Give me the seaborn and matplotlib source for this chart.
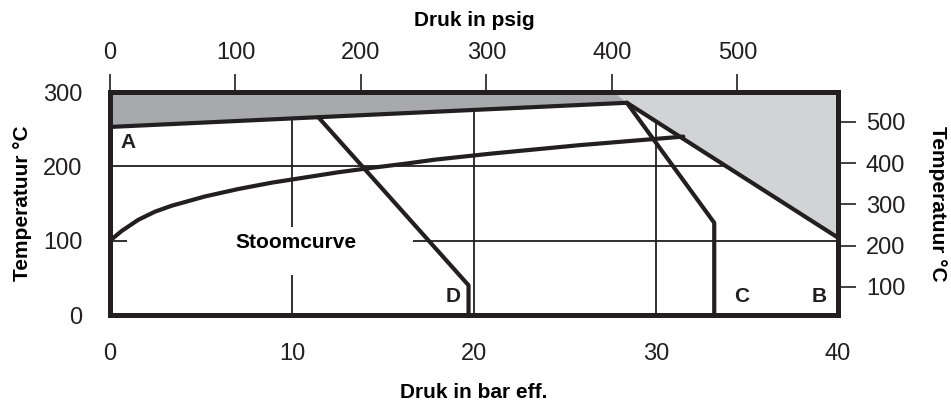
import matplotlib
matplotlib.use("Agg")
import matplotlib.pyplot as plt
import seaborn as sns
import pandas as pd
from matplotlib.patches import Rectangle

# ---- data ----
steam_bar = [0, 0.64, 1.55, 2.47, 3.39, 5.22, 7.05, 8.88, 10.71, 12.54, 14.38,
             16.21, 17.86, 20.9, 25.8, 31.5]
steam_c = [100, 113, 128, 139, 147, 159.5, 169.5, 178, 185, 192, 198,
           203.5, 209, 217, 228.5, 240]

line_a_bar = [0, 28.4]
line_a_c = [253, 285.5]
line_b_bar = [28.4, 40]
line_b_c = [285.5, 104]
line_c_bar = [28.4, 33.2, 33.2]
line_c_c = [285.5, 124, 0]
line_d_bar = [11.45, 19.7, 19.7]
line_d_c = [266, 40, 0]

dark_zone_bar = [0, 27.7, 28.4, 0]
dark_zone_c = [300, 300, 285.5, 253]
light_zone_bar = [27.7, 40, 40, 28.4]
light_zone_c = [300, 300, 104, 285.5]

bar_ticks = [0, 10, 20, 30, 40]
celsius_ticks = [0, 100, 200, 300]
psig_ticks = [0, 100, 200, 300, 400, 500]
fahr_ticks = [100, 200, 300, 400, 500]

labels = ["A", "D", "C", "B"]
label_bar = [1.0, 18.86, 34.7, 38.96]
label_c = [224, 18, 18, 18]

# ---- style ----
sns.set_theme(style="white")
plt.rcParams["font.family"] = ["Liberation Sans", "DejaVu Sans"]
ink = "#231f20"

fig = plt.figure(figsize=(9.51, 4.08), dpi=100)
ax = fig.add_axes([110 / 951, 1 - 315 / 408, (838 - 110) / 951, (315 - 92) / 408])

ax.set_xlim(0, 40)
ax.set_ylim(0, 300)
ax.set_xticks(bar_ticks)
ax.set_yticks(celsius_ticks)

# grid
ax.grid(True, color=ink, lw=1.3, zorder=0.5)
ax.set_axisbelow(True)

# zones
ax.fill(dark_zone_bar, dark_zone_c, color="#a7a9ac", lw=0, zorder=1)
ax.fill(light_zone_bar, light_zone_c, color="#d1d3d4", lw=0, zorder=1)

# white mask behind the label
ax.add_patch(Rectangle((0.93, 53.8), 16.66 - 0.93, 118.4 - 53.8,
                       facecolor="white", edgecolor="none", zorder=1.5))

lw = 3.0
for xs, ys in [(steam_bar, steam_c), (line_a_bar, line_a_c), (line_b_bar, line_b_c),
               (line_c_bar, line_c_c), (line_d_bar, line_d_c)]:
    df = pd.DataFrame({"bar": xs, "c": ys})
    sns.lineplot(data=df, x="bar", y="c", sort=False, estimator=None, ax=ax,
                 color=ink, lw=lw, zorder=3, solid_joinstyle="round")

for t, x, y in zip(labels, label_bar, label_c):
    ax.text(x, y, t, ha="center", va="baseline", fontsize=15, fontweight="bold",
            color=ink, zorder=5)
ax.text(10.2, 89.7, "Stoomcurve", ha="center", va="baseline", fontsize=15,
        fontweight="bold", color="black", zorder=5)

for s in ax.spines.values():
    s.set_visible(True)
    s.set_color(ink)
    s.set_linewidth(3.6)
    s.set_zorder(4)

tick_kw = dict(direction="out", length=13, width=1.2, color=ink, labelsize=17,
               labelcolor=ink, pad=7)
ax.tick_params(axis="both", **tick_kw)
ax.set_xlabel("Druk in bar eff.", fontsize=15, fontweight="bold", color="black", labelpad=13)
ax.set_ylabel("Temperatuur °C", fontsize=15, fontweight="bold", color="black", labelpad=8)

top = ax.secondary_xaxis("top", functions=(lambda b: b * 14.5038, lambda p: p / 14.5038))
top.set_xticks(psig_ticks)
top.tick_params(**tick_kw)
top.spines["top"].set_visible(False)
top.set_xlabel("Druk in psig", fontsize=15, fontweight="bold", color="black", labelpad=12)

right = ax.secondary_yaxis("right", functions=(lambda c: c * 9 / 5 + 32, lambda f: (f - 32) * 5 / 9))
right.set_yticks(fahr_ticks)
right.tick_params(**tick_kw)
right.spines["right"].set_visible(False)
right.set_ylabel("Temperatuur °C", fontsize=15, fontweight="bold", color="black",
                 rotation=-90, labelpad=30)

fig.savefig("out.png", dpi=100)
